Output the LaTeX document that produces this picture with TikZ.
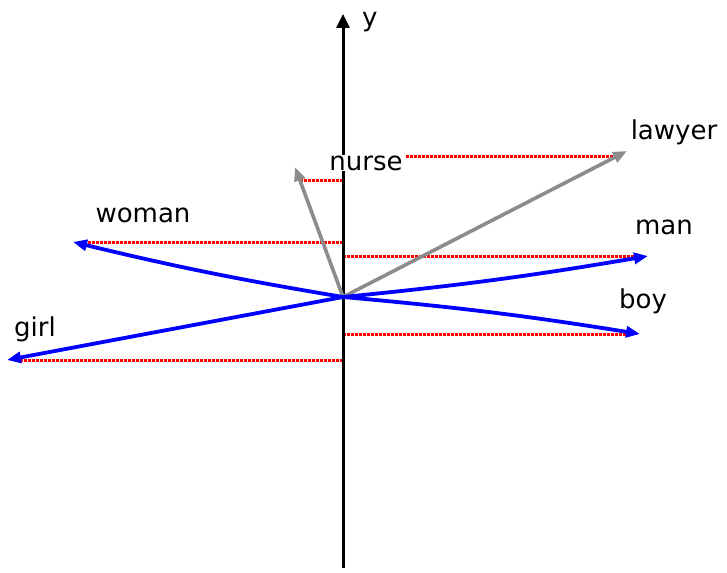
\documentclass[tikz,border=0pt]{standalone}
\usepackage{fontspec}
\setmainfont{DejaVu Sans}
\usetikzlibrary{arrows.meta,positioning}

\begin{document}
\begin{tikzpicture}[
      x=1pt, y=-1pt,
      >=Stealth,
      axisline/.style={->, line width=3pt, black, >={Triangle[length=14pt,width=13pt]}},
      blueword/.style={->, line width=3.8pt, blue, >={Triangle[length=14pt,width=11pt]}},
      greyword/.style={->, line width=3.6pt, black!45, >={Triangle[length=14pt,width=11pt]}},
      projline/.style={red, line width=3pt, dash pattern=on 3pt off 1pt},
      wordlabel/.style={font=\fontsize{26}{30}\selectfont, inner sep=1pt},
    ]
    \useasboundingbox (0,0) rectangle (727,572);
    % origin and word vectors
    \coordinate (O) at (343,297);
    \coordinate (axisfoot) at (343,568);
    \coordinate (axistip) at (343,14);
    \coordinate (lawyer) at (627,151);
    \coordinate (nurse) at (295,167);
    \coordinate (woman) at (73,242);
    \coordinate (man) at (648,256);
    \coordinate (boy) at (640,334);
    \coordinate (girl) at (7,360);

    % projections on the y axis
    \draw[projline] (O |- woman) -- ([xshift=12pt]woman);
    \draw[projline] (O |- girl) -- ([xshift=12pt]girl);
    \draw[projline] (O |- man) -- ([xshift=-12pt]man);
    \draw[projline] (O |- boy) -- ([xshift=-10pt]boy);
    \draw[projline] (O |- 0,180) -- (301,180);
    \draw[projline] (406,157) -- (614,157);

    % y axis
    \draw[axisline] (axisfoot) -- (axistip);
    \node[wordlabel, anchor=west] (ylab) at (361,22) {y};

    % vectors
    \draw[greyword] (O) -- (nurse);
    \draw[greyword] (O) -- (lawyer);
    \draw[blueword] (O) to[bend left=2] (woman);
    \draw[blueword] (O) to[bend right=2] (man);
    \draw[blueword] (O) to[bend left=2] (boy);
    \draw[blueword] (O) -- (girl);

    % labels
    \node[wordlabel, fill=white] (nurselab) at (366,163) {nurse};
    \node[wordlabel] (lawyerlab) at (674,132) {lawyer};
    \node[wordlabel] (womanlab) at (143,215) {woman};
    \node[wordlabel] (manlab) at (664,227) {man};
    \node[wordlabel] (boylab) at (643,301) {boy};
    \node[wordlabel] (girllab) at (35,329) {girl};
  \end{tikzpicture}
\end{document}
